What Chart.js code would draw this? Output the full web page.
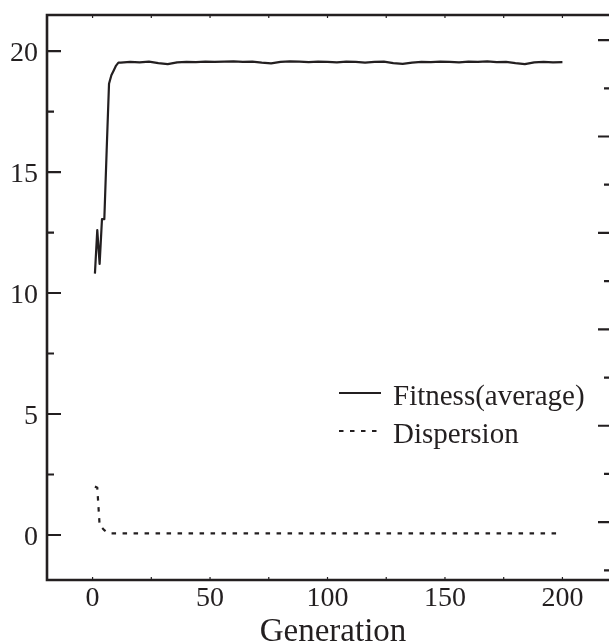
<!DOCTYPE html>
<html>
<head>
<meta charset="utf-8">
<script src="https://cdn.jsdelivr.net/npm/chart.js@4"></script>
<style>
html,body{margin:0;padding:0;background:#fff;overflow:hidden;}
canvas{display:block;}
</style>
</head>
<body>
<canvas id="c" width="630" height="643" style="width:630px;height:643px"></canvas>
<script>
// ---- data ----
const fitnessGen = [1,2,3,4,5,6,7,8,9,10,11,12,16,20,24,28,32,36,40,44,48,52,56,60,64,68,72,76,80,84,88,92,96,100,104,108,112,116,120,124,128,132,136,140,144,148,152,156,160,164,168,172,176,180,184,188,192,196,200];
const fitnessVal = [10.8,12.6,11.2,13.05,13.05,15.9,18.65,19.0,19.2,19.4,19.52,19.52,19.55,19.53,19.56,19.50,19.46,19.53,19.55,19.54,19.56,19.55,19.56,19.57,19.55,19.56,19.52,19.49,19.55,19.57,19.56,19.54,19.56,19.55,19.53,19.56,19.55,19.52,19.55,19.56,19.50,19.47,19.52,19.55,19.54,19.56,19.55,19.53,19.56,19.55,19.57,19.54,19.55,19.50,19.46,19.53,19.55,19.53,19.54];
const dispersionGen = [1,2,3,4,5,6,7,8,12,20,50,100,150,200];
const dispersionVal = [2.0,1.95,0.4,0.3,0.2,0.13,0.09,0.07,0.07,0.07,0.07,0.07,0.07,0.07];
const seriesLabels = ['Fitness(average)','Dispersion'];
const xTickLabels = [0,50,100,150,200];
const xMinorTicks = [0,25,50,75,100,125,150,175,200];
const yTickLabels = [0,5,10,15,20];
const yMinorTicks = [2.5,7.5,12.5,17.5];
const rightMajorTicks = [0,1,2,3,4,5];
const rightMinorTicks = [-0.5,0.5,1.5,2.5,3.5,4.5];
const xTitle = 'Generation';

const INK = '#231f20';
const FONT = '"Liberation Serif", "Times New Roman", serif';
const DASH = [4.5, 6.5];

const toXY = (xs, ys) => xs.map((x, i) => ({x: x, y: ys[i]}));

const framePlugin = {
  id: 'frame',
  afterDraw(chart) {
    const ctx = chart.ctx;
    const a = chart.chartArea;
    const xs = chart.scales.x, ys = chart.scales.y, y2 = chart.scales.y2;
    ctx.save();
    ctx.strokeStyle = INK;
    ctx.fillStyle = INK;
    // box
    ctx.lineWidth = 2.6;
    ctx.lineCap = 'butt';
    ctx.beginPath();
    ctx.moveTo(a.left, a.top); ctx.lineTo(a.right, a.top);
    ctx.moveTo(a.left, a.bottom); ctx.lineTo(a.right, a.bottom);
    ctx.moveTo(a.left, a.top - 1.3); ctx.lineTo(a.left, a.bottom + 1.3);
    ctx.moveTo(a.right, a.top - 1.3); ctx.lineTo(a.right, a.bottom + 1.3);
    ctx.stroke();
    // left ticks
    ctx.lineWidth = 2.2;
    ctx.beginPath();
    yTickLabels.forEach(v => { const p = ys.getPixelForValue(v); ctx.moveTo(a.left, p); ctx.lineTo(a.left + 14, p); });
    yMinorTicks.forEach(v => { const p = ys.getPixelForValue(v); ctx.moveTo(a.left, p); ctx.lineTo(a.left + 7, p); });
    // right ticks
    rightMajorTicks.forEach(v => { const p = y2.getPixelForValue(v); ctx.moveTo(a.right, p); ctx.lineTo(a.right - 14, p); });
    rightMinorTicks.forEach(v => { const p = y2.getPixelForValue(v); ctx.moveTo(a.right, p); ctx.lineTo(a.right - 8, p); });
    ctx.stroke();
    // top / bottom tiny ticks
    ctx.lineWidth = 1.2;
    ctx.beginPath();
    xMinorTicks.forEach(v => {
      const p = xs.getPixelForValue(v);
      ctx.moveTo(p, a.top); ctx.lineTo(p, a.top + 3);
      ctx.moveTo(p, a.bottom); ctx.lineTo(p, a.bottom - 3);
    });
    ctx.stroke();
    // tick labels
    ctx.font = '28px ' + FONT;
    ctx.textBaseline = 'alphabetic';
    ctx.textAlign = 'right';
    yTickLabels.forEach(v => { ctx.fillText(String(v), a.left - 9, ys.getPixelForValue(v) + 10); });
    ctx.textAlign = 'center';
    xTickLabels.forEach(v => { ctx.fillText(String(v), xs.getPixelForValue(v), a.bottom + 26); });
    // axis title
    ctx.font = '33px ' + FONT;
    ctx.fillText(xTitle, 333, 641);
    // legend
    const ds = chart.data.datasets;
    const rows = [393, 431];
    ctx.font = '29px ' + FONT;
    ctx.textAlign = 'left';
    ds.forEach((d, i) => {
      ctx.lineWidth = d.borderWidth;
      ctx.setLineDash(d.borderDash || []);
      ctx.beginPath();
      ctx.moveTo(339, rows[i]); ctx.lineTo(381, rows[i]);
      ctx.stroke();
      ctx.setLineDash([]);
      ctx.fillText(d.label, 393, rows[i] + 12);
    });
    ctx.restore();
  }
};

new Chart(document.getElementById('c'), {
  type: 'line',
  data: {
    datasets: [
      {label: seriesLabels[0], data: toXY(fitnessGen, fitnessVal), borderColor: INK, borderWidth: 2.2, pointRadius: 0, tension: 0, fill: false, borderJoinStyle: 'round'},
      {label: seriesLabels[1], data: toXY(dispersionGen, dispersionVal), borderColor: INK, borderWidth: 2.2, borderDash: DASH, pointRadius: 0, tension: 0, fill: false}
    ]
  },
  options: {
    responsive: false,
    animation: false,
    devicePixelRatio: 1,
    layout: {padding: {left: 47, top: 15, right: 18, bottom: 63}},
    plugins: {legend: {display: false}, tooltip: {enabled: false}},
    scales: {
      x: {type: 'linear', min: -19.4, max: 221.1, display: false},
      y: {type: 'linear', min: -1.86, max: 21.49, display: false},
      y2: {type: 'linear', position: 'right', min: -0.6, max: 5.26, display: false}
    }
  },
  plugins: [framePlugin]
});
</script>
</body>
</html>
